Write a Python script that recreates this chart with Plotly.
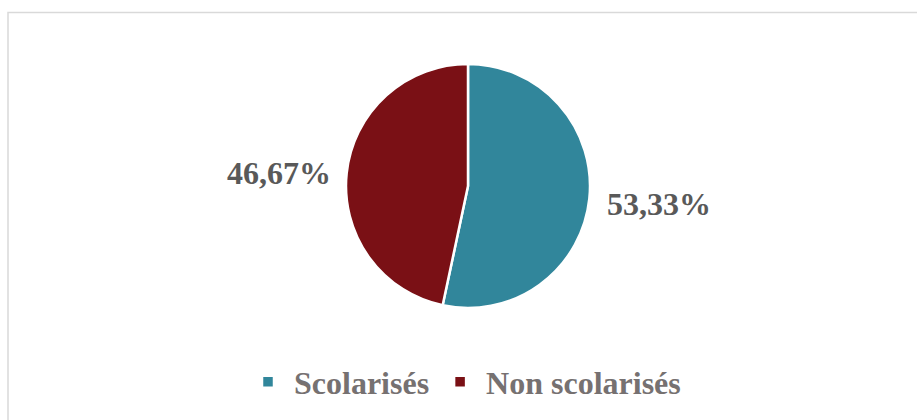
import plotly.graph_objects as go

categories = ["Scolarisés", "Non scolarisés"]
values = [53.33, 46.67]
colors = ["#31869B", "#7A1015"]

W, H = 917, 420
cx, cy, r = 468, 186, 122

def fmt(v):
    return f"{v:.2f}".replace(".", ",") + "%"

fig = go.Figure()
fig.add_trace(go.Pie(
    labels=categories,
    values=values,
    sort=False,
    direction="clockwise",
    rotation=0,
    textinfo="none",
    hoverinfo="label+percent",
    marker=dict(colors=colors, line=dict(color="white", width=2.5)),
    domain=dict(x=[(cx - r) / W, (cx + r) / W], y=[1 - (cy + r) / H, 1 - (cy - r) / H]),
))

label_pos = [(659, 204), (279, 173)]
for v, (px, py) in zip(values, label_pos):
    fig.add_annotation(
        text=fmt(v), x=px / W, y=1 - py / H, xref="paper", yref="paper",
        showarrow=False, xanchor="center", yanchor="middle",
        font=dict(family="Liberation Serif", size=32, color="#595959", weight="bold"),
    )

fig.add_shape(type="rect", xref="paper", yref="paper",
              x0=8 / W, x1=1.05, y0=-0.1, y1=1 - 12.5 / H,
              line=dict(color="#D9D9D9", width=1.5), layer="below")

fig.update_layout(
    width=W, height=H,
    margin=dict(l=0, r=0, t=0, b=0),
    paper_bgcolor="white",
    plot_bgcolor="white",
    showlegend=True,
    legend=dict(
        orientation="h", x=242 / W, xanchor="left", y=1 - 382 / H, yanchor="middle",
        font=dict(family="Liberation Serif", size=32, color="#767171", weight="bold"),
        itemwidth=42, itemclick=False,
    ),
)

fig.write_html("out.html")
